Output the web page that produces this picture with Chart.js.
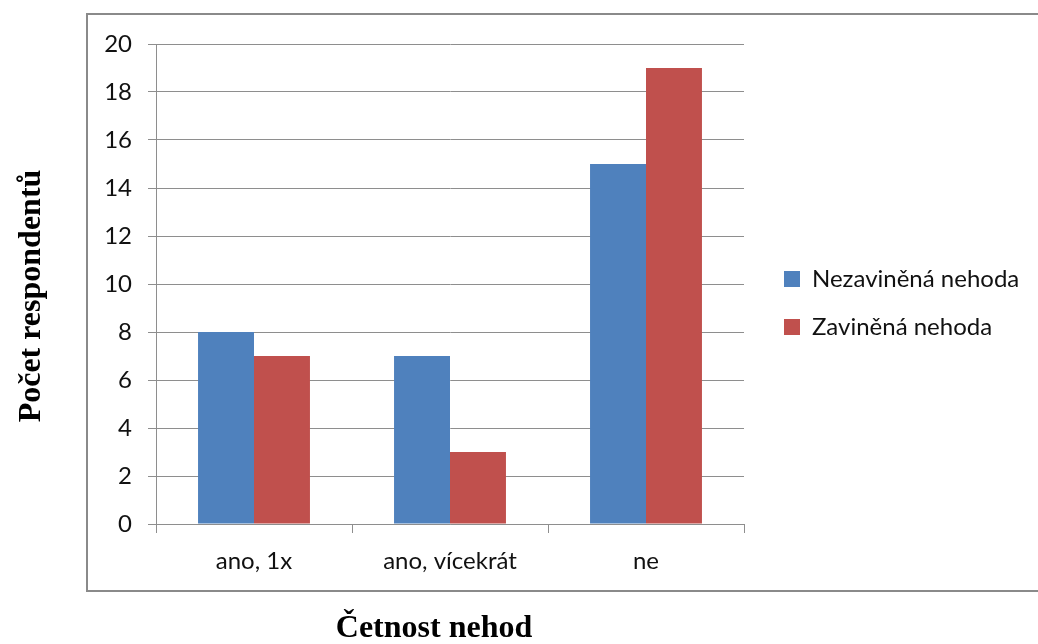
<!DOCTYPE html>
<html>
<head>
<meta charset="utf-8">
<script src="https://cdn.jsdelivr.net/npm/chart.js@4/dist/chart.umd.min.js"></script>
<style>
  html, body { margin: 0; padding: 0; background: #ffffff; }
  #wrap { width: 1038px; height: 644px; }
</style>
</head>
<body>
<div id="wrap"><canvas id="c" width="1038" height="644"></canvas></div>
<script>
// Četnost nehod podle zavinění
const categories = ['ano, 1x', 'ano, vícekrát', 'ne'];
const nezavinenaNehoda = [8, 7, 15];
const zavinenaNehoda = [7, 3, 19];
const seriesNames = ['Nezaviněná nehoda', 'Zaviněná nehoda'];
const yTickValues = [0, 2, 4, 6, 8, 10, 12, 14, 16, 18, 20];
const xAxisTitle = 'Četnost nehod';
const yAxisTitle = 'Počet respondentů';

const gridColor = '#8e8e8e';
const labelFont = { family: 'Lato', size: 24 };
const titleFont = 'bold 32px "Liberation Serif"';

// Frame, axis titles and fixed layout geometry
const framePlugin = {
  id: 'frame',
  beforeLayout(chart) {
    const lg = chart.legend;
    if (lg && !lg._fixedFit) {
      const fit = lg.fit;
      lg.fit = function () { fit.call(this); this.width = 294; };
      lg._fixedFit = true;
    }
  },
  afterLayout(chart) {
    const lg = chart.legend;
    const dx = 760 - lg.left, dy = 243 - lg.top;
    lg.left += dx; lg.right += dx;
    lg.top += dy; lg.bottom += dy;
  },
  beforeDraw(chart) {
    const ctx = chart.ctx;
    ctx.save();
    ctx.fillStyle = '#ffffff';
    ctx.fillRect(0, 0, chart.width, chart.height);
    ctx.strokeStyle = '#8a8a8a';
    ctx.lineWidth = 2;
    ctx.strokeRect(87, 14, 1040, 577);
    ctx.restore();
  },
  afterDraw(chart) {
    const ctx = chart.ctx;
    const area = chart.chartArea;
    ctx.save();
    ctx.fillStyle = '#000000';
    ctx.font = titleFont;
    ctx.textAlign = 'center';
    ctx.textBaseline = 'alphabetic';
    ctx.fillText(xAxisTitle, 434, 637);
    ctx.translate(40, 296);
    ctx.rotate(-Math.PI / 2);
    ctx.fillText(yAxisTitle, 0, 0);
    ctx.restore();
  }
};

new Chart(document.getElementById('c'), {
  type: 'bar',
  data: {
    labels: categories,
    datasets: [
      { label: seriesNames[0], data: nezavinenaNehoda, backgroundColor: '#4f81bd' },
      { label: seriesNames[1], data: zavinenaNehoda, backgroundColor: '#c0504d' }
    ]
  },
  options: {
    responsive: false,
    animation: false,
    devicePixelRatio: 1,
    categoryPercentage: 0.571,
    barPercentage: 1,
    layout: { padding: { top: 44, left: 0, right: 0, bottom: 0 } },
    plugins: {
      tooltip: { enabled: false },
      title: { display: false },
      legend: {
        position: 'right',
        align: 'start',
        labels: {
          boxWidth: 16,
          boxHeight: 16,
          padding: 24,
          color: '#111111',
          font: labelFont
        }
      }
    },
    scales: {
      x: {
        grid: {
          drawOnChartArea: false,
          drawTicks: true,
          tickLength: 9,
          offset: true,
          color: gridColor
        },
        border: { display: true, color: gridColor, width: 1 },
        ticks: { color: '#111111', font: labelFont, padding: 14 },
        afterFit(scale) { scale.height = 120; }
      },
      y: {
        min: 0,
        max: 20,
        afterBuildTicks(scale) { scale.ticks = yTickValues.map(v => ({ value: v })); },
        grid: { color: gridColor, tickLength: 8, drawTicks: true },
        border: { display: true, color: gridColor, width: 1 },
        ticks: { color: '#111111', font: labelFont, padding: 16 },
        afterFit(scale) { scale.width = 156; }
      }
    }
  },
  plugins: [framePlugin]
});
</script>
</body>
</html>
